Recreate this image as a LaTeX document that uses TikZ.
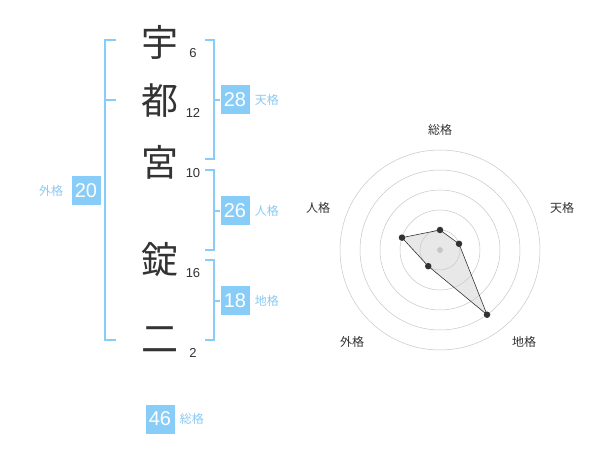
\documentclass[tikz,border=0pt]{standalone}
\usepackage{fontspec}
\usetikzlibrary{positioning}
\setmainfont{Liberation Sans}
\newfontfamily\jpfont{Noto Sans CJK JP}
\definecolor{skyb}{HTML}{88CDF8}
\definecolor{labb}{HTML}{8CC9F2}
\definecolor{ink}{HTML}{333333}
\tikzset{
  kanji/.style={font=\jpfont\fontsize{37}{37}\selectfont,text=ink,inner sep=0},
  strokes/.style={font=\fontsize{13}{13}\selectfont,text=ink,inner sep=0},
  score/.style={fill=skyb,text=white,font=\fontsize{20}{20}\selectfont,minimum width=29pt,minimum height=29pt,inner sep=0},
  kaku/.style={font=\jpfont\fontsize{12}{12}\selectfont,text=labb,inner sep=0},
  brak/.style={draw=skyb,line width=1.6pt},
  ring/.style={draw=black!22,line width=0.5pt},
  axlab/.style={font=\jpfont\fontsize{12}{12}\selectfont,text=ink,inner sep=0},
  dot/.style={circle,fill=ink,inner sep=0,minimum size=6.5pt},
}
\begin{document}
\begin{tikzpicture}[x=1pt,y=-1pt]
\useasboundingbox[fill=white] (0,0) rectangle (600,470);
% name and stroke counts
\node[kanji] (c1) at (160,42) {宇};
\node[kanji] (c2) at (160,101) {都};
\node[kanji] (c3) at (160,162) {宮};
\node[kanji] (c4) at (160,260) {錠};
\node[kanji] (c5) at (160,340) {二};
\node[strokes] (n1) at (193,53) {6};
\node[strokes] (n2) at (193,113) {12};
\node[strokes] (n3) at (193,173) {10};
\node[strokes] (n4) at (193,273) {16};
\node[strokes] (n5) at (193,353) {2};
% scores
\node[score] (ten) at (235,100) {28};
\node[kaku,right=5pt of ten] (tenl) {天格};
\node[score] (jin) at (235,211) {26};
\node[kaku,right=5pt of jin] (jinl) {人格};
\node[score] (chi) at (235,301) {18};
\node[kaku,right=5pt of chi] (chil) {地格};
\node[score] (gai) at (86,191) {20};
\node[kaku,left=8pt of gai] (gail) {外格};
\node[score] (sou) at (160,419) {46};
\node[kaku,right=5pt of sou] (soul) {総格};
% brackets
\draw[brak] (116,40) -- (105,40) -- (105,340) -- (116,340);
\draw[brak] (105,100) -- (116,100);
\draw[brak] (205,40) -- (214,40) -- (214,159) -- (205,159);
\draw[brak] (214,100) -- (ten.west);
\draw[brak] (205,170) -- (214,170) -- (214,250) -- (205,250);
\draw[brak] (214,211) -- (jin.west);
\draw[brak] (205,260) -- (214,260) -- (214,340) -- (205,340);
\draw[brak] (214,301) -- (chi.west);
% radar chart
\begin{scope}[shift={(440,250)}]
\foreach \r in {20,40,...,100}
  \draw[ring] (0,0) circle (\r pt);
\fill[black!20,fill opacity=0.45] (90:20pt) -- (18:20pt) -- (-54:80pt) -- (-126:20pt) -- (162:40pt) -- cycle;
\fill[black!22] (0,0) circle (3pt);
\node[dot] (ps) at (90:20pt) {};
\node[dot] (pt) at (18:20pt) {};
\node[dot] (pc) at (-54:80pt) {};
\node[dot] (pg) at (-126:20pt) {};
\node[dot] (pj) at (162:40pt) {};
\draw[ink,line width=0.6pt] (ps.center) -- (pt.center) -- (pc.center) -- (pg.center) -- (pj.center) -- cycle;
\node[axlab] (as) at (0,-120) {総格};
\node[axlab] (at) at (122,-42) {天格};
\node[axlab] (ac) at (84,92) {地格};
\node[axlab] (ag) at (-88,92) {外格};
\node[axlab] (aj) at (-122,-42) {人格};
\end{scope}
\end{tikzpicture}
\end{document}
